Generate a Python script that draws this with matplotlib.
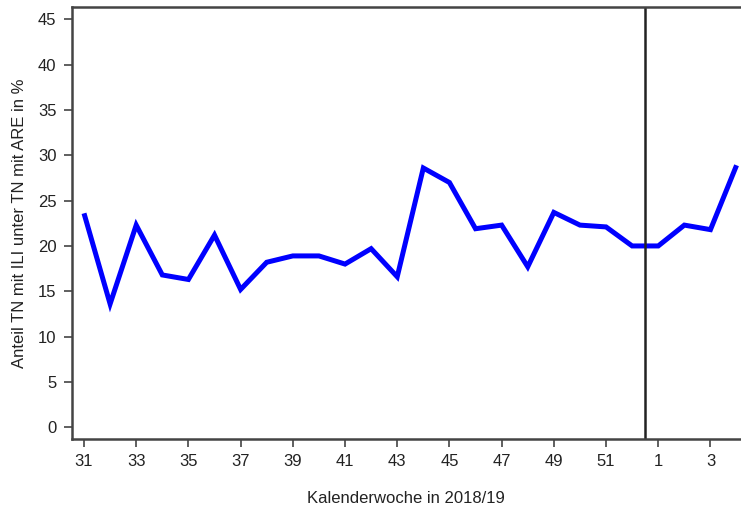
import matplotlib
matplotlib.use("Agg")
import matplotlib.pyplot as plt

weeks = [31, 32, 33, 34, 35, 36, 37, 38, 39, 40, 41, 42, 43, 44, 45, 46, 47, 48, 49, 50, 51, 52, 1, 2, 3, 4]
values = [23.6, 13.6, 22.3, 16.8, 16.3, 21.2, 15.2, 18.2, 18.9, 18.9, 18.0, 19.7, 16.6,
          28.6, 27.0, 21.9, 22.3, 17.7, 23.7, 22.3, 22.1, 20.0, 20.0, 22.3, 21.8, 28.9]
tick_weeks = [31, 33, 35, 37, 39, 41, 43, 45, 47, 49, 51, 1, 3]
yticks = [0, 5, 10, 15, 20, 25, 30, 35, 40, 45]

plt.rcParams['font.family'] = ['Liberation Sans', 'DejaVu Sans']

fig = plt.figure(figsize=(7.41, 5.15), dpi=100)
ax = fig.add_axes([0.0968, 0.1476, 0.9032, 0.8394])

x = list(range(len(weeks)))
ax.plot(x, values, color='#0000ff', linewidth=3.6, solid_joinstyle='miter', solid_capstyle='butt')
ax.axvline(weeks.index(52) + 0.5, color='#222222', linewidth=1.8)

ax.set_xlim(-0.47, 25.17)
ax.set_ylim(-1.3, 46.4)
ax.set_yticks(yticks)
ax.set_yticklabels([str(v) for v in yticks], fontsize=12, color='#222222')
tpos = [weeks.index(w) for w in tick_weeks]
ax.set_xticks(tpos)
ax.set_xticklabels([str(w) for w in tick_weeks], fontsize=12, color='#222222')
ax.tick_params(axis='both', direction='out', length=6, width=1.2, color='#444444', pad=5)

for s in ['left', 'bottom', 'top']:
    ax.spines[s].set_color('#444444')
    ax.spines[s].set_linewidth(1.8)
ax.spines['right'].set_visible(False)

ax.set_ylabel('Anteil TN mit ILI unter TN mit ARE in %', fontsize=12, color='#222222', labelpad=8)
ax.set_xlabel('Kalenderwoche in 2018/19', fontsize=12, color='#222222', labelpad=16)

fig.savefig('out.png', dpi=100)
